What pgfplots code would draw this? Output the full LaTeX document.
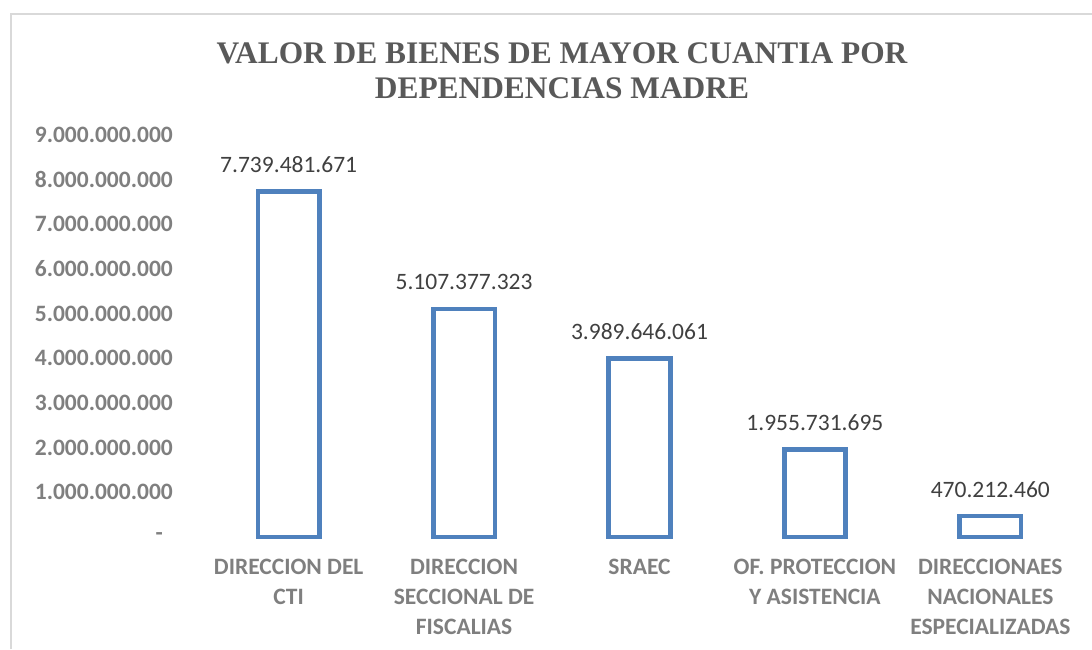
\documentclass[border=0pt]{standalone}
\usepackage{pgfplots}
\pgfplotsset{compat=1.18}
\usepackage{fontspec}
\setmainfont{Carlito}
\newfontfamily\titlefont{Liberation Serif}
\definecolor{barblue}{HTML}{4F81BD}
\definecolor{tickgray}{HTML}{7F7F7F}
\definecolor{titlegray}{HTML}{595959}
\definecolor{labgray}{HTML}{404040}
\definecolor{framegray}{HTML}{D9D9D9}
\pgfplotstableread{
x y label
0 7739481671 7.739.481.671
1 5107377323 5.107.377.323
2 3989646061 3.989.646.061
3 1955731695 1.955.731.695
4 470212460 470.212.460
}\datatable
\begin{document}
\begin{tikzpicture}[x=1pt,y=1pt]
\path[use as bounding box] (0,0) rectangle (1092,649);
\draw[framegray, line width=1.5pt] (11,0) -- (11,635) -- (1092,635);
\node[titlegray, font=\titlefont\bfseries\fontsize{31.4}{35}\selectfont, align=center] at (562,578.5) {VALOR DE BIENES DE MAYOR CUANTIA POR\\DEPENDENCIAS MADRE};
\begin{axis}[
  at={(201pt,112pt)}, anchor=south west,
  scale only axis, width=877pt, height=402pt,
  xmin=-0.5, xmax=4.5, ymin=0, ymax=9e9,
  axis line style={draw=none},
  major tick length=0pt,
  ybar, bar width=61.5pt,
  xtick={0,1,2,3,4},
  xticklabels={{DIRECCION DEL\\CTI},{DIRECCION\\SECCIONAL DE\\FISCALIAS},{SRAEC},{OF. PROTECCION\\Y ASISTENCIA},{DIRECCIONAES\\NACIONALES\\ESPECIALIZADAS}},
  ytick={0,1e9,2e9,3e9,4e9,5e9,6e9,7e9,8e9,9e9},
  yticklabels={{-\kern10pt},1.000.000.000,2.000.000.000,3.000.000.000,4.000.000.000,5.000.000.000,6.000.000.000,7.000.000.000,8.000.000.000,9.000.000.000},
  xticklabel style={tickgray, font=\bfseries\fontsize{23.5}{30}\selectfont, align=center, anchor=north, inner sep=0pt, yshift=-22pt},
  yticklabel style={tickgray, font=\bfseries\fontsize{23.5}{28}\selectfont, anchor=east, inner sep=0pt, xshift=-28pt},
  scaled y ticks=false,
  clip=false,
]
\addplot[draw=barblue, fill=white, line width=4.7pt, line join=miter,
  nodes near coords, point meta=explicit symbolic,
  nodes near coords style={labgray, font=\fontsize{23.5}{28}\selectfont, anchor=base, inner sep=0pt, yshift=19pt}]
  table[x=x, y=y, meta=label]{\datatable};
\end{axis}
\end{tikzpicture}
\end{document}
